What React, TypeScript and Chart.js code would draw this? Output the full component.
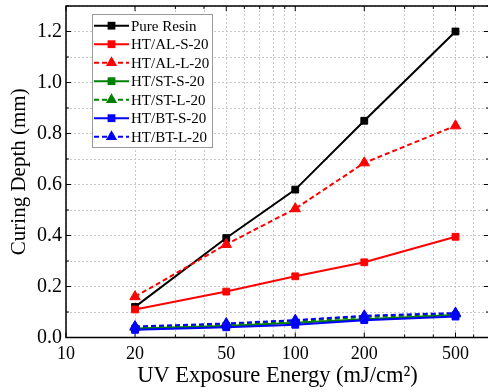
import React, { useEffect, useRef } from 'react';
import { Chart, registerables } from 'chart.js';

Chart.register(...registerables);

const FONT = "'Liberation Serif', 'Times New Roman', serif";

// ---- data ----
const energies = [20, 50, 100, 200, 500];
const seriesNames = ['Pure Resin', 'HT/AL-S-20', 'HT/AL-L-20', 'HT/ST-S-20', 'HT/ST-L-20', 'HT/BT-S-20', 'HT/BT-L-20'];
const pureResin = [0.12, 0.39, 0.58, 0.85, 1.2];
const alS = [0.11, 0.18, 0.24, 0.295, 0.395];
const alL = [0.16, 0.365, 0.505, 0.685, 0.83];
const stS = [0.035, 0.045, 0.058, 0.072, 0.088];
const stL = [0.04, 0.05, 0.064, 0.08, 0.092];
const btS = [0.03, 0.04, 0.05, 0.068, 0.082];
const btL = [0.043, 0.055, 0.068, 0.085, 0.096];
const seriesColors = ['#000000', '#ff0000', '#ff0000', '#008000', '#008000', '#0000ff', '#0000ff'];
const seriesDashed = [false, false, true, false, true, false, true];

const xTickLabels = [10, 20, 50, 100, 200, 500];
const xAllTicks = [10, 20, 30, 40, 50, 60, 70, 80, 90, 100, 200, 300, 400, 500, 600, 700];
const yAllTicks = [0, 0.1, 0.2, 0.3, 0.4, 0.5, 0.6, 0.7, 0.8, 0.9, 1.0, 1.1, 1.2, 1.3];
const yTickLabels = [0, 0.2, 0.4, 0.6, 0.8, 1.0, 1.2];

const allSeries = [pureResin, alS, alL, stS, stL, btS, btL];

const isXMajor = (v: number) => xTickLabels.some((t) => Math.abs(t - v) < 1e-9);
const isYMajor = (v: number) => yTickLabels.some((t) => Math.abs(t - v) < 1e-9);

function drawMarker(ctx: CanvasRenderingContext2D, x: number, y: number, style: string, color: string) {
  ctx.save();
  ctx.fillStyle = color;
  ctx.setLineDash([]);
  ctx.beginPath();
  if (style === 'triangle') {
    const r = 6.5;
    ctx.moveTo(x, y - r);
    ctx.lineTo(x + r * Math.sin((2 * Math.PI) / 3), y - r * Math.cos((2 * Math.PI) / 3));
    ctx.lineTo(x + r * Math.sin((4 * Math.PI) / 3), y - r * Math.cos((4 * Math.PI) / 3));
    ctx.closePath();
  } else {
    const s = 3.9;
    ctx.rect(x - s, y - s, 2 * s, 2 * s);
  }
  ctx.fill();
  ctx.restore();
}

const framePlugin = {
  id: 'frame',
  beforeDatasetsDraw(chart: any) {
    const { ctx, chartArea } = chart;
    const { left, right, top, bottom } = chartArea;
    const xs = chart.scales.x;
    const ys = chart.scales.y;
    ctx.save();
    ctx.strokeStyle = '#000';
    ctx.lineWidth = 1.5;
    ctx.setLineDash([]);
    ctx.strokeRect(left, top, right - left, bottom - top);
    ctx.lineWidth = 1;
    ctx.beginPath();
    xAllTicks.forEach((v) => {
      const px = xs.getPixelForValue(v);
      const len = isXMajor(v) ? 5 : 3;
      ctx.moveTo(px, bottom);
      ctx.lineTo(px, bottom - len);
      ctx.moveTo(px, top);
      ctx.lineTo(px, top + len);
    });
    yAllTicks.forEach((v) => {
      const py = ys.getPixelForValue(v);
      const len = isYMajor(v) ? 5 : 3;
      ctx.moveTo(left, py);
      ctx.lineTo(left + len, py);
      ctx.moveTo(right, py);
      ctx.lineTo(right - len, py);
    });
    ctx.stroke();
    ctx.restore();
  },
};

const legendPlugin = {
  id: 'customLegend',
  afterDatasetsDraw(chart: any) {
    const { ctx } = chart;
    const bx = 92.5, by = 14.5, bw = 120, bh = 133;
    ctx.save();
    ctx.fillStyle = '#fff';
    ctx.fillRect(bx, by, bw, bh);
    ctx.strokeStyle = '#999';
    ctx.lineWidth = 1;
    ctx.setLineDash([]);
    ctx.strokeRect(bx, by, bw, bh);
    const y0 = 25.7, step = 18.5;
    chart.data.datasets.forEach((ds: any, i: number) => {
      const y = y0 + i * step;
      ctx.strokeStyle = ds.borderColor;
      ctx.lineWidth = 2;
      ctx.setLineDash(ds.borderDash || []);
      ctx.beginPath();
      ctx.moveTo(94, y);
      ctx.lineTo(129, y);
      ctx.stroke();
      drawMarker(ctx, 111.5, y, ds.pointStyle, ds.borderColor);
      ctx.fillStyle = '#000';
      ctx.font = `15px ${FONT}`;
      ctx.textBaseline = 'middle';
      ctx.textAlign = 'left';
      ctx.fillText(ds.label, 131, y + 1);
    });
    ctx.restore();
  },
};

export default function App() {
  const canvasRef = useRef<HTMLCanvasElement | null>(null);

  useEffect(() => {
    if (!canvasRef.current) return;
    const datasets = seriesNames.map((name, i) => ({
      label: name,
      data: energies.map((x, j) => ({ x, y: allSeries[i][j] })),
      borderColor: seriesColors[i],
      backgroundColor: seriesColors[i],
      borderWidth: 2,
      borderDash: seriesDashed[i] ? [5, 3] : [],
      pointStyle: seriesDashed[i] ? 'triangle' : 'rect',
      pointRadius: seriesDashed[i] ? 6 : 4.8,
      pointBorderWidth: 1,
      pointBorderColor: seriesColors[i],
      pointBackgroundColor: seriesColors[i],
      fill: false,
      tension: 0,
      order: seriesNames.length - i,
    }));

    const chart = new Chart(canvasRef.current, {
      type: 'line',
      data: { datasets },
      options: {
        animation: false,
        responsive: false,
        devicePixelRatio: 1,
        layout: { autoPadding: false, padding: { top: 6, right: 3, left: 0, bottom: 0 } },
        plugins: { legend: { display: false }, tooltip: { enabled: false } },
        scales: {
          x: {
            type: 'logarithmic',
            min: 10,
            max: 700,
            afterBuildTicks: (s: any) => {
              s.ticks = xAllTicks.map((v) => ({ value: v }));
            },
            afterFit: (s: any) => {
              s.height = 54.5;
              s.paddingLeft = 0;
              s.paddingRight = 0;
              s.paddingTop = 0;
              s.paddingBottom = 0;
            },
            ticks: {
              autoSkip: false,
              maxRotation: 0,
              padding: 6,
              color: '#000',
              font: { family: FONT, size: 18 },
              callback: (v: any) => (isXMajor(Number(v)) ? String(v) : ''),
            },
            grid: { color: '#c8c8c8', lineWidth: 1, drawTicks: false },
            border: { display: false, dash: [2, 2] },
            title: {
              display: true,
              text: 'UV Exposure Energy (mJ/cm²)',
              color: '#000',
              font: { family: FONT, size: 22.5 },
              padding: { top: 0, bottom: 2 },
            },
          },
          y: {
            type: 'linear',
            min: 0,
            max: 1.3,
            afterBuildTicks: (s: any) => {
              s.ticks = yAllTicks.map((v) => ({ value: v }));
            },
            afterFit: (s: any) => {
              s.width = 66;
              s.paddingLeft = 0;
              s.paddingRight = 0;
              s.paddingTop = 0;
              s.paddingBottom = 0;
            },
            ticks: {
              autoSkip: false,
              padding: 4,
              color: '#000',
              font: { family: FONT, size: 20 },
              callback: (v: any) => (isYMajor(Number(v)) ? Number(v).toFixed(1) : ''),
            },
            grid: { color: '#c8c8c8', lineWidth: 1, drawTicks: false },
            border: { display: false, dash: [2, 2] },
            title: {
              display: true,
              text: 'Curing Depth (mm)',
              color: '#000',
              font: { family: FONT, size: 21 },
              padding: { top: 7, bottom: 0 },
            },
          },
        },
      },
      plugins: [framePlugin, legendPlugin],
    } as any);

    return () => chart.destroy();
  }, []);

  return (
    <div style={{ position: 'absolute', left: 0, top: 0, width: 488, height: 392, overflow: 'hidden', background: '#fff' }}>
      <canvas ref={canvasRef} width={492} height={392} style={{ display: 'block' }} />
    </div>
  );
}
